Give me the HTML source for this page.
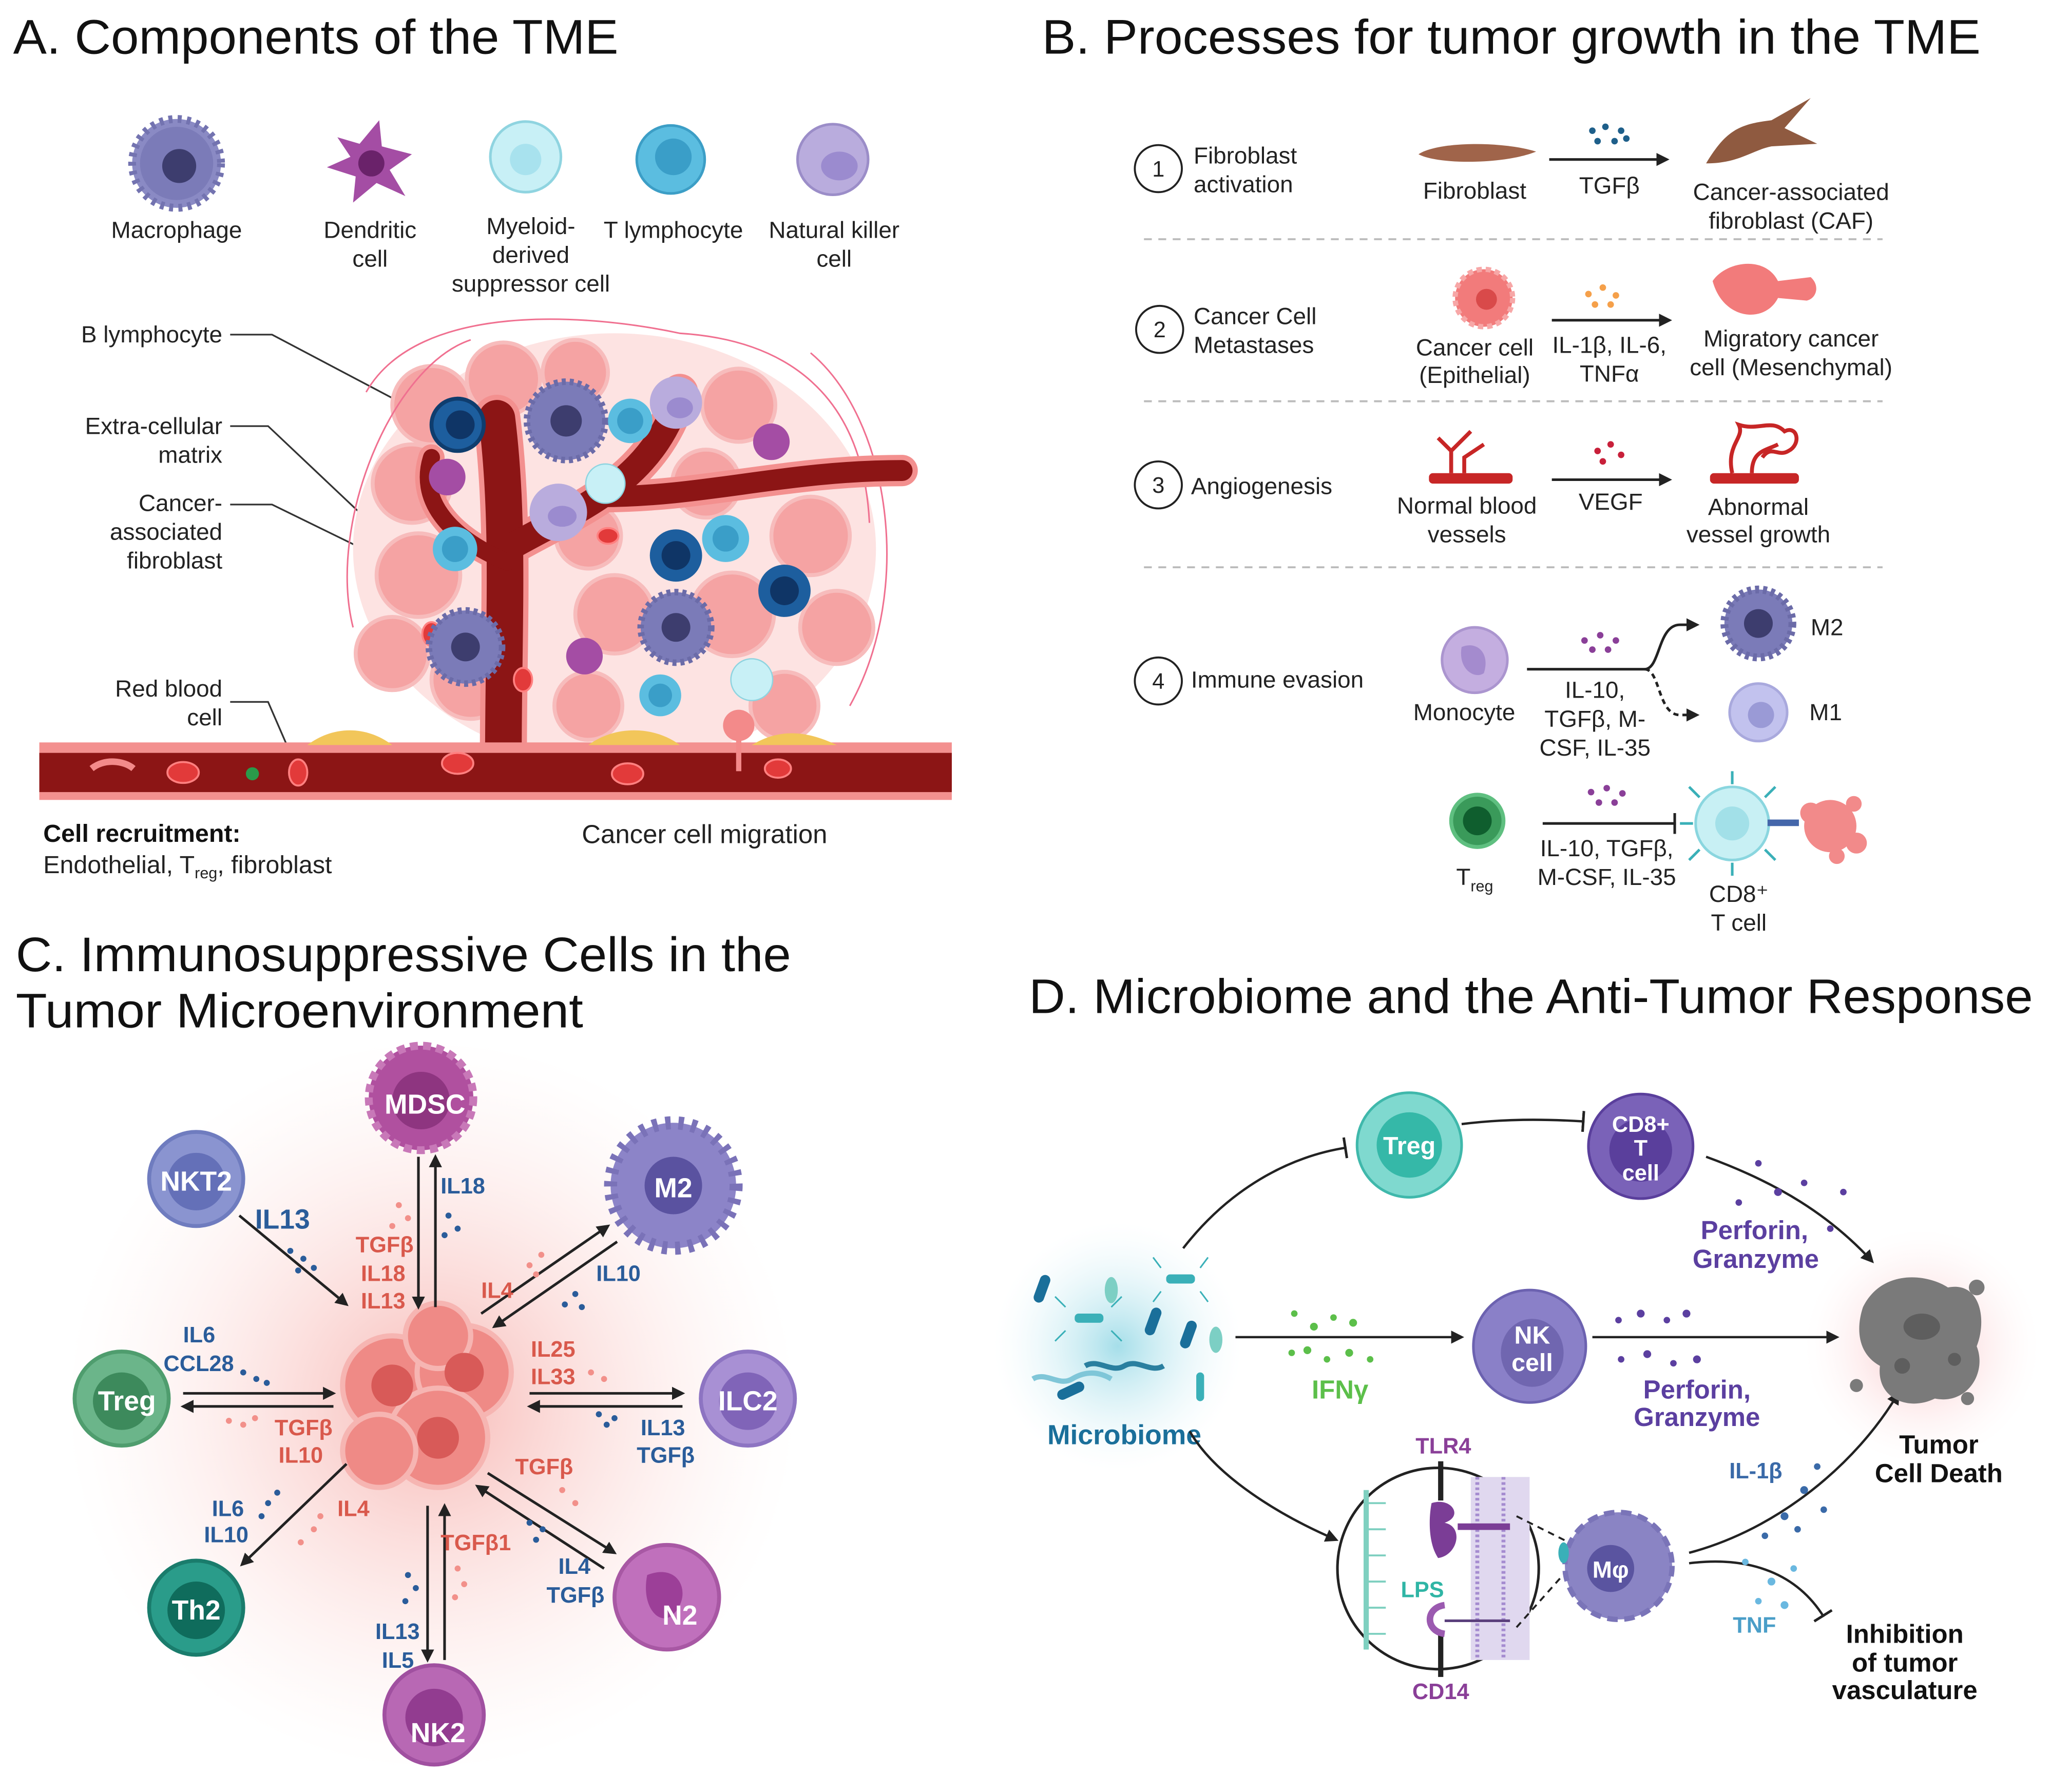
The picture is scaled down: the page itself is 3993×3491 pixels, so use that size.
<!DOCTYPE html>
<html><head><meta charset="utf-8"><style>
html,body{margin:0;padding:0;background:#fff;}
svg{display:block;}
text{font-family:"Liberation Sans",sans-serif;}
</style></head><body>
<svg width="3993" height="3491" viewBox="0 0 1568 1371" xmlns="http://www.w3.org/2000/svg">
<defs>
<marker id="ar" markerWidth="10" markerHeight="10" refX="8" refY="5" orient="auto" markerUnits="userSpaceOnUse"><path d="M0,0 L10,5 L0,10 z" fill="#222"/></marker>
<marker id="bar" markerWidth="4" markerHeight="16" refX="2" refY="8" orient="auto" markerUnits="userSpaceOnUse"><rect x="0" y="0" width="2" height="16" fill="#222"/></marker>
<radialGradient id="glowC"><stop offset="0" stop-color="#f6b0ac" stop-opacity="0.9"/><stop offset="1" stop-color="#fde8e6" stop-opacity="0"/></radialGradient>
<radialGradient id="glowM"><stop offset="0" stop-color="#8fd6e4" stop-opacity="0.8"/><stop offset="1" stop-color="#e6f6fa" stop-opacity="0"/></radialGradient>
<radialGradient id="glowT"><stop offset="0" stop-color="#f6b0b4" stop-opacity="0.8"/><stop offset="1" stop-color="#fff0f0" stop-opacity="0"/></radialGradient>
</defs>
<rect width="1568" height="1371" fill="#fff"/>

<!-- ================= PANEL A ================= -->
<text x="10" y="41" font-size="37" fill="#111" textLength="463" lengthAdjust="spacingAndGlyphs">A. Components of the TME</text>
<g>
<circle cx="135" cy="125" r="34" fill="#8a8ac4" stroke="#7373b0" stroke-width="6" stroke-dasharray="3 4"/>
<circle cx="135" cy="125" r="28" fill="#7b7bb8"/><circle cx="137" cy="127" r="13" fill="#3d3d6e"/>
<path d="M258,105 L275,110 L290,92 L292,112 L315,118 L298,130 L310,150 L288,140 L270,155 L272,135 L250,128 L268,120z" fill="#a44da4"/><circle cx="284" cy="125" r="10" fill="#6a226a"/>
<circle cx="402" cy="120" r="27" fill="#c8f0f6" stroke="#8fd4e0" stroke-width="2"/><circle cx="402" cy="122" r="12" fill="#a8e2ee"/>
<circle cx="513" cy="122" r="26" fill="#5bbde0" stroke="#3c9ec6" stroke-width="2"/><circle cx="515" cy="120" r="14" fill="#3a9ec8"/>
<circle cx="637" cy="122" r="27" fill="#b9acdd" stroke="#9b8dc8" stroke-width="2"/><ellipse cx="642" cy="127" rx="14" ry="11" fill="#9b8bcf"/>
</g>
<g font-size="18" fill="#222" text-anchor="middle">
<text x="135" y="182">Macrophage</text>
<text x="283" y="182">Dendritic</text><text x="283" y="204">cell</text>
<text x="406" y="179">Myeloid-</text><text x="406" y="201">derived</text><text x="406" y="223">suppressor cell</text>
<text x="515" y="182">T lymphocyte</text>
<text x="638" y="182">Natural killer</text><text x="638" y="204">cell</text>
</g>
<g font-size="18" fill="#222" text-anchor="end">
<text x="170" y="262">B lymphocyte</text>
<text x="170" y="332">Extra-cellular</text><text x="170" y="354">matrix</text>
<text x="170" y="391">Cancer-</text><text x="170" y="413">associated</text><text x="170" y="435">fibroblast</text>
<text x="170" y="533">Red blood</text><text x="170" y="555">cell</text>
</g>
<g stroke="#333" stroke-width="1.3" fill="none">
<path d="M176,256 H208 L335,323"/><path d="M176,326 H205 L278,395"/><path d="M176,386 H208 L298,430"/><path d="M176,537 H205 L228,590"/>
</g>
<g>
<ellipse cx="470" cy="420" rx="200" ry="165" fill="#fde3e2"/>
<g fill="#f5a3a3" stroke="#f7bcbc" stroke-width="3">
<circle cx="330" cy="310" r="30"/><circle cx="385" cy="290" r="28"/><circle cx="440" cy="285" r="25"/><circle cx="565" cy="310" r="28"/>
<circle cx="315" cy="370" r="30"/><circle cx="320" cy="440" r="32"/><circle cx="300" cy="500" r="28"/><circle cx="360" cy="520" r="30"/>
<circle cx="470" cy="470" r="30"/><circle cx="560" cy="470" r="32"/><circle cx="620" cy="410" r="30"/><circle cx="640" cy="480" r="28"/>
<circle cx="600" cy="540" r="26"/><circle cx="450" cy="540" r="26"/><circle cx="540" cy="370" r="26"/><circle cx="450" cy="410" r="25"/>
</g>
<g fill="none" stroke="#f07090" stroke-width="1.2"><path d="M280,300 C320,230 450,240 520,255 C600,260 660,300 665,400"/><path d="M270,480 C250,400 300,280 360,260"/><path d="M650,540 C700,450 680,320 620,270"/></g>
</g>
<g fill="none" stroke-linecap="round">
<path d="M385,578 C385,480 390,400 380,320" stroke="#f3908f" stroke-width="36"/>
<path d="M388,420 C440,390 500,370 520,300" stroke="#f3908f" stroke-width="28"/>
<path d="M388,430 C340,410 320,380 330,350" stroke="#f3908f" stroke-width="20"/>
<path d="M460,380 C540,380 600,360 690,360" stroke="#f3908f" stroke-width="24"/>
<path d="M385,578 C385,480 390,400 380,320" stroke="#8c1515" stroke-width="28"/>
<path d="M388,420 C440,390 500,370 520,300" stroke="#8c1515" stroke-width="20"/>
<path d="M388,430 C340,410 320,380 330,350" stroke="#8c1515" stroke-width="13"/>
<path d="M460,380 C540,380 600,360 690,360" stroke="#8c1515" stroke-width="16"/>
</g>
<rect x="30" y="568" width="698" height="44" fill="#f3908f"/>
<rect x="30" y="576" width="698" height="30" fill="#8c1515"/>
<g fill="#e23a3a" stroke="#ff8080" stroke-width="1.5">
<ellipse cx="140" cy="591" rx="12" ry="8"/><ellipse cx="228" cy="591" rx="7" ry="10"/><ellipse cx="350" cy="584" rx="12" ry="8"/><ellipse cx="480" cy="592" rx="12" ry="8"/><ellipse cx="595" cy="588" rx="10" ry="7"/>
<ellipse cx="465" cy="410" rx="8" ry="6"/><ellipse cx="400" cy="520" rx="7" ry="9"/><ellipse cx="330" cy="485" rx="7" ry="9"/>
</g>
<circle cx="193" cy="592" r="5" fill="#2a9a4a"/>
<path d="M70,588 C80,580 95,582 102,588" stroke="#f38a8a" stroke-width="5" fill="none"/>
<g fill="#f2c65a"><path d="M235,570 C255,555 280,555 300,570z"/><path d="M450,570 C470,555 500,555 520,570z"/><path d="M575,570 C595,558 615,558 640,570z"/></g>
<circle cx="565" cy="555" r="12" fill="#f38a8a"/><path d="M565,565 V590" stroke="#f38a8a" stroke-width="4"/>
<g>
<circle cx="350" cy="325" r="20" fill="#1d5e9e" stroke="#0f3d6e" stroke-width="3"/><circle cx="352" cy="325" r="11" fill="#0f3566"/>
<circle cx="433" cy="322" r="30" fill="#7b7bb8" stroke="#6b6ba8" stroke-width="5" stroke-dasharray="3 3"/><circle cx="433" cy="322" r="12" fill="#3d3d6e"/>
<circle cx="482" cy="322" r="17" fill="#5bbde0"/><circle cx="482" cy="322" r="10" fill="#3a9ec8"/>
<circle cx="517" cy="308" r="20" fill="#b9acdd"/><ellipse cx="520" cy="312" rx="10" ry="8" fill="#9b8bcf"/>
<circle cx="342" cy="365" r="14" fill="#a44da4"/><circle cx="590" cy="338" r="14" fill="#a44da4"/>
<circle cx="463" cy="370" r="15" fill="#c8f0f6" stroke="#8fd4e0"/>
<circle cx="427" cy="392" r="22" fill="#b9acdd"/><ellipse cx="430" cy="395" rx="11" ry="8" fill="#9b8bcf"/>
<circle cx="348" cy="420" r="17" fill="#5bbde0"/><circle cx="348" cy="420" r="10" fill="#3a9ec8"/>
<circle cx="517" cy="425" r="20" fill="#1d5e9e"/><circle cx="517" cy="425" r="11" fill="#0f3566"/>
<circle cx="555" cy="412" r="18" fill="#5bbde0"/><circle cx="555" cy="412" r="10" fill="#3a9ec8"/>
<circle cx="600" cy="452" r="20" fill="#1d5e9e"/><circle cx="600" cy="452" r="11" fill="#0f3566"/>
<circle cx="356" cy="495" r="28" fill="#7b7bb8" stroke="#6b6ba8" stroke-width="5" stroke-dasharray="3 3"/><circle cx="356" cy="495" r="11" fill="#3d3d6e"/>
<circle cx="517" cy="480" r="27" fill="#7b7bb8" stroke="#6b6ba8" stroke-width="5" stroke-dasharray="3 3"/><circle cx="517" cy="480" r="11" fill="#3d3d6e"/>
<circle cx="447" cy="502" r="14" fill="#a44da4"/>
<circle cx="505" cy="532" r="16" fill="#5bbde0"/><circle cx="505" cy="532" r="9" fill="#3a9ec8"/>
<circle cx="575" cy="520" r="16" fill="#c8f0f6" stroke="#8fd4e0"/>
</g>
<text x="33" y="644" font-size="19" font-weight="bold" fill="#111">Cell recruitment:</text>
<text x="33" y="668" font-size="19" fill="#222">Endothelial, T<tspan font-size="12" dy="4">reg</tspan><tspan dy="-4">, fibroblast</tspan></text>
<text x="445" y="645" font-size="20" fill="#222">Cancer cell migration</text>

<!-- ================= PANEL B ================= -->
<text x="797" y="41" font-size="37" fill="#111" textLength="718" lengthAdjust="spacingAndGlyphs">B. Processes for tumor growth in the TME</text>
<g stroke="#bbb" stroke-width="1.5" stroke-dasharray="6 5"><path d="M875,183 H1440"/><path d="M875,307 H1440"/><path d="M875,434 H1440"/></g>
<g fill="none" stroke="#222" stroke-width="1.5"><circle cx="886" cy="129" r="18"/><circle cx="887" cy="252" r="18"/><circle cx="886" cy="371" r="18"/><circle cx="886" cy="521" r="18"/></g>
<g font-size="17" fill="#222" text-anchor="middle"><text x="886" y="135">1</text><text x="887" y="258">2</text><text x="886" y="377">3</text><text x="886" y="527">4</text></g>
<g font-size="18" fill="#222">
<text x="913" y="125">Fibroblast</text><text x="913" y="147">activation</text>
<text x="913" y="248">Cancer Cell</text><text x="913" y="270">Metastases</text>
<text x="911" y="378">Angiogenesis</text>
<text x="911" y="526">Immune evasion</text>
</g>
<g stroke="#222" stroke-width="2" fill="none">
<path d="M1185,122 H1275" marker-end="url(#ar)"/><path d="M1187,245 H1277" marker-end="url(#ar)"/><path d="M1187,367 H1277" marker-end="url(#ar)"/>
<path d="M1168,512 H1258 C1270,512 1268,478 1285,478 H1298" marker-end="url(#ar)"/>
<path d="M1258,512 C1270,512 1268,547 1285,547 H1298" stroke-dasharray="4 3" marker-end="url(#ar)"/>
<path d="M1180,630 H1282" marker-end="url(#bar)"/>
</g>
<path d="M1085,118 C1100,108 1150,108 1175,116 C1150,126 1100,126 1085,118z" fill="#a0644a"/>
<path d="M1305,125 C1320,100 1330,95 1355,92 L1385,75 L1365,98 L1390,110 L1355,112 C1340,115 1330,125 1305,125z" fill="#8f5a40"/>
<g fill="#1e5f8a"><circle cx="1218" cy="100" r="2.5"/><circle cx="1228" cy="97" r="2.5"/><circle cx="1240" cy="100" r="2.5"/><circle cx="1222" cy="108" r="2.5"/><circle cx="1235" cy="108" r="2.5"/><circle cx="1244" cy="106" r="2.5"/></g>
<circle cx="1135" cy="228" r="22" fill="#f27b7b" stroke="#f7a7a7" stroke-width="4" stroke-dasharray="4 3"/><circle cx="1137" cy="229" r="8" fill="#d94a4a"/>
<path d="M1310,215 C1320,200 1350,195 1360,215 L1385,212 C1392,218 1390,228 1382,230 L1360,228 C1350,248 1318,245 1310,215z" fill="#f27b7b"/>
<g fill="#f5a04a"><circle cx="1215" cy="225" r="2.5"/><circle cx="1226" cy="220" r="2.5"/><circle cx="1236" cy="226" r="2.5"/><circle cx="1220" cy="233" r="2.5"/><circle cx="1232" cy="233" r="2.5"/></g>
<rect x="1093" y="362" width="64" height="8" rx="3" fill="#c72626"/><path d="M1110,362 V345 L1100,335 M1110,345 L1125,330 M1120,362 V350 L1135,340" stroke="#c72626" stroke-width="3" fill="none"/>
<rect x="1308" y="362" width="68" height="8" rx="3" fill="#c72626"/><path d="M1325,362 C1320,340 1335,335 1330,325 C1345,330 1355,320 1365,330 C1375,325 1378,340 1368,345 C1360,350 1355,340 1348,350 M1340,362 C1340,345 1350,345 1360,340" stroke="#c72626" stroke-width="3" fill="none"/>
<g fill="#c8203a"><circle cx="1222" cy="345" r="2.5"/><circle cx="1232" cy="340" r="2.5"/><circle cx="1240" cy="348" r="2.5"/><circle cx="1226" cy="353" r="2.5"/></g>
<circle cx="1128" cy="505" r="25" fill="#c4aee0" stroke="#ab95cf" stroke-width="2"/><path d="M1118,495 C1130,490 1140,500 1135,515 C1128,520 1115,512 1118,495z" fill="#a48bce"/>
<g fill="#8a3f98"><circle cx="1212" cy="490" r="2.5"/><circle cx="1224" cy="486" r="2.5"/><circle cx="1236" cy="490" r="2.5"/><circle cx="1218" cy="497" r="2.5"/><circle cx="1230" cy="497" r="2.5"/></g>
<circle cx="1345" cy="477" r="26" fill="#7b7bb8" stroke="#6b6ba8" stroke-width="6" stroke-dasharray="3 3"/><circle cx="1345" cy="477" r="11" fill="#3d3d6e"/>
<circle cx="1345" cy="545" r="22" fill="#c2c2ee" stroke="#a9a9dd" stroke-width="2"/><circle cx="1347" cy="547" r="10" fill="#9a9ad6"/>
<circle cx="1130" cy="628" r="20" fill="#3a9a5a" stroke="#5fbf80" stroke-width="3"/><circle cx="1130" cy="628" r="11" fill="#0f5e2e"/>
<g fill="#8a3f98"><circle cx="1217" cy="606" r="2.5"/><circle cx="1229" cy="603" r="2.5"/><circle cx="1241" cy="607" r="2.5"/><circle cx="1223" cy="614" r="2.5"/><circle cx="1235" cy="614" r="2.5"/></g>
<g stroke="#3ab0b8" stroke-width="2"><path d="M1325,600 V590 M1325,660 V670 M1295,630 H1285 M1350,610 L1358,602 M1300,610 L1292,602 M1300,650 L1292,658 M1350,650 L1358,658"/></g>
<circle cx="1325" cy="630" r="28" fill="#c8f0f4" stroke="#8ad6df" stroke-width="2"/><circle cx="1325" cy="630" r="13" fill="#a2e0e8"/>
<rect x="1352" y="627" width="24" height="5" fill="#4466aa"/>
<g fill="#f28a8a"><circle cx="1400" cy="632" r="20"/><circle cx="1385" cy="622" r="8"/><circle cx="1420" cy="645" r="8"/><circle cx="1405" cy="655" r="6"/><circle cx="1418" cy="615" r="6"/></g>
<g font-size="18" fill="#222" text-anchor="middle">
<text x="1128" y="152">Fibroblast</text><text x="1231" y="148">TGFβ</text>
<text x="1370" y="153">Cancer-associated</text><text x="1370" y="175">fibroblast (CAF)</text>
<text x="1128" y="272">Cancer cell</text><text x="1128" y="293">(Epithelial)</text>
<text x="1231" y="270">IL-1β, IL-6,</text><text x="1231" y="292">TNFα</text>
<text x="1370" y="265">Migratory cancer</text><text x="1370" y="287">cell (Mesenchymal)</text>
<text x="1122" y="393">Normal blood</text><text x="1122" y="415">vessels</text><text x="1232" y="390">VEGF</text>
<text x="1345" y="394">Abnormal</text><text x="1345" y="415">vessel growth</text>
<text x="1120" y="551">Monocyte</text>
<text x="1220" y="534">IL-10,</text><text x="1220" y="556">TGFβ, M-</text><text x="1220" y="578">CSF, IL-35</text>
<text x="1128" y="677">T<tspan font-size="12" dy="5">reg</tspan></text>
<text x="1229" y="655">IL-10, TGFβ,</text><text x="1229" y="677">M-CSF, IL-35</text>
<text x="1330" y="690">CD8⁺</text><text x="1330" y="712">T cell</text>
</g>
<g font-size="18" fill="#222"><text x="1385" y="486">M2</text><text x="1384" y="551">M1</text></g>

<!-- ================= PANEL C ================= -->
<text x="12" y="743" font-size="37" fill="#111" textLength="593" lengthAdjust="spacingAndGlyphs">C. Immunosuppressive Cells in the</text>
<text x="12" y="786" font-size="37" fill="#111" textLength="434" lengthAdjust="spacingAndGlyphs">Tumor Microenvironment</text>
<circle cx="330" cy="1075" r="280" fill="url(#glowC)"/>
<g fill="#ef8a86" stroke="#f6b5b2" stroke-width="4">
<circle cx="300" cy="1060" r="38"/><circle cx="355" cy="1050" r="36"/><circle cx="335" cy="1100" r="38"/><circle cx="290" cy="1110" r="28"/><circle cx="335" cy="1022" r="25"/>
</g>
<g fill="#d85a58"><circle cx="300" cy="1060" r="16"/><circle cx="355" cy="1050" r="15"/><circle cx="335" cy="1100" r="16"/></g>
<g stroke="#222" stroke-width="2" fill="none">
<path d="M333,1000 V885" marker-end="url(#ar)"/><path d="M320,885 V1000" marker-end="url(#ar)"/>
<path d="M183,930 L265,998" marker-end="url(#ar)"/>
<path d="M368,1005 L465,938" marker-end="url(#ar)"/><path d="M472,950 L378,1015" marker-end="url(#ar)"/>
<path d="M140,1066 H255" marker-end="url(#ar)"/><path d="M255,1076 H140" marker-end="url(#ar)"/>
<path d="M405,1066 H522" marker-end="url(#ar)"/><path d="M522,1076 H405" marker-end="url(#ar)"/>
<path d="M265,1120 L185,1197" marker-end="url(#ar)"/>
<path d="M373,1127 L470,1188" marker-end="url(#ar)"/><path d="M462,1200 L365,1137" marker-end="url(#ar)"/>
<path d="M327,1152 V1270" marker-end="url(#ar)"/><path d="M340,1270 V1152" marker-end="url(#ar)"/>
</g>
<g>
<circle cx="322" cy="840" r="40" fill="#b0509f" stroke="#c878b8" stroke-width="6" stroke-dasharray="6 4"/><circle cx="322" cy="842" r="22" fill="#8e3580"/>
<circle cx="150" cy="902" r="36" fill="#8a94d0" stroke="#6f7cbf" stroke-width="3"/><circle cx="150" cy="904" r="22" fill="#6470b8"/>
<circle cx="515" cy="907" r="48" fill="#8c84c8" stroke="#7a72b8" stroke-width="10" stroke-dasharray="4 6"/><circle cx="515" cy="907" r="22" fill="#5a52a0"/>
<circle cx="93" cy="1070" r="36" fill="#6bb58a" stroke="#4f9d6e" stroke-width="3"/><circle cx="93" cy="1072" r="22" fill="#3d8a5c"/>
<circle cx="572" cy="1070" r="36" fill="#a890d4" stroke="#8d74c2" stroke-width="3"/><circle cx="572" cy="1072" r="22" fill="#8064b8"/>
<circle cx="150" cy="1230" r="36" fill="#2a9c8a" stroke="#1a7c6c" stroke-width="3"/><circle cx="150" cy="1232" r="22" fill="#0f6c5c"/>
<circle cx="510" cy="1222" r="40" fill="#c070bc" stroke="#a858a4" stroke-width="3"/><path d="M495,1205 C520,1195 530,1220 515,1235 C505,1245 490,1230 495,1205z" fill="#9c3f98"/>
<circle cx="332" cy="1312" r="38" fill="#b868b4" stroke="#a050a0" stroke-width="3"/><circle cx="332" cy="1314" r="22" fill="#923c90"/>
</g>
<g font-size="21" font-weight="bold" fill="#fff" text-anchor="middle">
<text x="325" y="852">MDSC</text><text x="150" y="911">NKT2</text><text x="515" y="916">M2</text><text x="97" y="1079">Treg</text><text x="572" y="1079">ILC2</text><text x="150" y="1239">Th2</text><text x="520" y="1243">N2</text><text x="335" y="1333">NK2</text>
</g>
<g font-size="17" font-weight="bold" fill="#2a5c9a">
<text x="337" y="913">IL18</text><text x="195" y="940" font-size="21">IL13</text><text x="456" y="980">IL10</text>
<text x="140" y="1027">IL6</text><text x="125" y="1049">CCL28</text><text x="490" y="1098">IL13</text><text x="487" y="1119">TGFβ</text>
<text x="162" y="1160">IL6</text><text x="156" y="1180">IL10</text><text x="427" y="1204">IL4</text><text x="418" y="1226">TGFβ</text>
<text x="287" y="1254">IL13</text><text x="292" y="1276">IL5</text>
</g>
<g font-size="17" font-weight="bold" fill="#d9594c">
<text x="272" y="958">TGFβ</text><text x="276" y="980">IL18</text><text x="276" y="1001">IL13</text><text x="368" y="993">IL4</text>
<text x="406" y="1038">IL25</text><text x="406" y="1059">IL33</text><text x="210" y="1098">TGFβ</text><text x="213" y="1119">IL10</text>
<text x="394" y="1128">TGFβ</text><text x="258" y="1160">IL4</text><text x="337" y="1186">TGFβ1</text>
</g>
<g fill="#2a5c9a"><circle cx="222" cy="957" r="2.3"/><circle cx="232" cy="963" r="2.3"/><circle cx="240" cy="970" r="2.3"/><circle cx="228" cy="972" r="2.3"/><circle cx="343" cy="930" r="2.3"/><circle cx="350" cy="940" r="2.3"/><circle cx="340" cy="945" r="2.3"/><circle cx="440" cy="990" r="2.3"/><circle cx="432" cy="998" r="2.3"/><circle cx="445" cy="1000" r="2.3"/><circle cx="186" cy="1050" r="2.3"/><circle cx="196" cy="1055" r="2.3"/><circle cx="204" cy="1058" r="2.3"/><circle cx="458" cy="1082" r="2.3"/><circle cx="470" cy="1085" r="2.3"/><circle cx="464" cy="1090" r="2.3"/><circle cx="205" cy="1150" r="2.3"/><circle cx="212" cy="1142" r="2.3"/><circle cx="200" cy="1160" r="2.3"/><circle cx="405" cy="1165" r="2.3"/><circle cx="415" cy="1170" r="2.3"/><circle cx="410" cy="1178" r="2.3"/><circle cx="312" cy="1205" r="2.3"/><circle cx="318" cy="1215" r="2.3"/><circle cx="310" cy="1225" r="2.3"/></g>
<g fill="#f2908a"><circle cx="305" cy="922" r="2.3"/><circle cx="312" cy="932" r="2.3"/><circle cx="300" cy="938" r="2.3"/><circle cx="405" cy="968" r="2.3"/><circle cx="414" cy="960" r="2.3"/><circle cx="410" cy="975" r="2.3"/><circle cx="452" cy="1050" r="2.3"/><circle cx="462" cy="1055" r="2.3"/><circle cx="175" cy="1087" r="2.3"/><circle cx="186" cy="1090" r="2.3"/><circle cx="195" cy="1085" r="2.3"/><circle cx="240" cy="1170" r="2.3"/><circle cx="230" cy="1180" r="2.3"/><circle cx="245" cy="1160" r="2.3"/><circle cx="430" cy="1140" r="2.3"/><circle cx="440" cy="1150" r="2.3"/><circle cx="350" cy="1200" r="2.3"/><circle cx="355" cy="1212" r="2.3"/><circle cx="348" cy="1222" r="2.3"/></g>

<!-- ================= PANEL D ================= -->
<text x="787" y="775" font-size="37" fill="#111" textLength="768" lengthAdjust="spacingAndGlyphs">D. Microbiome and the Anti-Tumor Response</text>
<circle cx="855" cy="1030" r="95" fill="url(#glowM)"/>
<circle cx="1470" cy="1030" r="90" fill="url(#glowT)"/>
<g fill="#1a6f9a"><rect x="793" y="975" width="8" height="22" rx="4" transform="rotate(20 797 986)"/><rect x="878" y="1000" width="8" height="22" rx="4" transform="rotate(20 882 1011)"/><rect x="905" y="1010" width="8" height="22" rx="4" transform="rotate(20 909 1021)"/><rect x="808" y="1060" width="22" height="8" rx="4" transform="rotate(-25 819 1064)"/></g>
<g fill="#3ab0b8"><rect x="822" y="1005" width="22" height="7" rx="3"/><rect x="892" y="975" width="22" height="7" rx="3"/><rect x="915" y="1050" width="6" height="22" rx="3"/><ellipse cx="850" cy="987" rx="5" ry="10" fill="#7ccfc4"/><ellipse cx="930" cy="1025" rx="5" ry="10" fill="#7ccfc4"/></g>
<g stroke="#3ab0b8" stroke-width="1.2" fill="none"><path d="M815,1000 l-8,-8 M850,1000 l8,-8 M815,1018 l-8,8 M850,1018 l8,8 M888,970 l-6,-8 M918,970 l6,-8 M888,988 l-6,8 M918,988 l6,8"/><path d="M790,1055 c10,-6 20,6 30,0 s20,-6 30,0" stroke="#7fc6d8" stroke-width="4"/><path d="M830,1045 c10,-6 20,6 30,0 s20,6 30,0" stroke="#2a7f9f" stroke-width="4"/></g>
<text x="860" y="1105" font-size="21" font-weight="bold" fill="#1a6f9a" text-anchor="middle">Microbiome</text>
<g stroke="#222" stroke-width="1.8" fill="none">
<path d="M905,955 C940,910 985,885 1030,878" marker-end="url(#bar)"/>
<path d="M1118,860 C1150,856 1180,856 1212,858" marker-end="url(#bar)"/>
<path d="M1305,885 C1360,905 1400,930 1432,965" marker-end="url(#ar)"/>
<path d="M945,1023 H1118" marker-end="url(#ar)"/>
<path d="M1218,1023 H1405" marker-end="url(#ar)"/>
<path d="M910,1095 C930,1130 980,1160 1022,1178" marker-end="url(#ar)"/>
<path d="M1292,1188 C1360,1170 1420,1120 1452,1066" marker-end="url(#ar)"/>
<path d="M1292,1196 C1340,1190 1375,1205 1395,1237" marker-end="url(#bar)"/>
</g>
<circle cx="1078" cy="876" r="40" fill="#7fd9cf" stroke="#3fb8ab" stroke-width="2"/><circle cx="1078" cy="876" r="25" fill="#35b8a8"/>
<text x="1078" y="883" font-size="19" font-weight="bold" fill="#fff" text-anchor="middle">Treg</text>
<circle cx="1255" cy="877" r="40" fill="#7a62b8" stroke="#5a3f9c" stroke-width="2"/><circle cx="1255" cy="880" r="24" fill="#5a3f9c"/>
<g font-size="17" font-weight="bold" fill="#fff" text-anchor="middle"><text x="1255" y="866">CD8+</text><text x="1255" y="884">T</text><text x="1255" y="903">cell</text></g>
<circle cx="1170" cy="1030" r="43" fill="#8a80c8" stroke="#6c62b0" stroke-width="2"/><ellipse cx="1172" cy="1035" rx="24" ry="26" fill="#7066b0"/>
<g font-size="19" font-weight="bold" fill="#fff" text-anchor="middle"><text x="1172" y="1028">NK</text><text x="1172" y="1049">cell</text></g>
<g fill="#5cbf4a"><circle cx="990" cy="1005" r="2.5"/><circle cx="1005" cy="1015" r="3"/><circle cx="1020" cy="1008" r="2.5"/><circle cx="1035" cy="1012" r="3"/><circle cx="988" cy="1035" r="2.5"/><circle cx="1000" cy="1033" r="3"/><circle cx="1015" cy="1040" r="2.5"/><circle cx="1032" cy="1035" r="3"/><circle cx="1048" cy="1040" r="2.5"/></g>
<text x="1025" y="1070" font-size="20" font-weight="bold" fill="#5cbf4a" text-anchor="middle">IFNγ</text>
<g fill="#5b3fa0"><circle cx="1238" cy="1010" r="2.5"/><circle cx="1255" cy="1005" r="3"/><circle cx="1275" cy="1010" r="2.5"/><circle cx="1290" cy="1005" r="3"/><circle cx="1240" cy="1040" r="2.5"/><circle cx="1260" cy="1036" r="3"/><circle cx="1280" cy="1043" r="2.5"/><circle cx="1298" cy="1040" r="3"/><circle cx="1345" cy="890" r="2.5"/><circle cx="1360" cy="912" r="3"/><circle cx="1380" cy="905" r="2.5"/><circle cx="1400" cy="940" r="2.5"/><circle cx="1330" cy="920" r="2.5"/><circle cx="1410" cy="912" r="2.5"/></g>
<g font-size="20" font-weight="bold" fill="#5b3fa0" text-anchor="middle"><text x="1342" y="948">Perforin,</text><text x="1343" y="970">Granzyme</text><text x="1298" y="1070">Perforin,</text><text x="1298" y="1091">Granzyme</text></g>
<path d="M1425,1000 C1440,970 1475,975 1490,985 C1515,980 1520,1010 1512,1030 C1520,1050 1505,1075 1480,1070 C1460,1080 1435,1070 1438,1045 C1420,1035 1420,1015 1425,1000z" fill="#7a7a7a"/>
<g fill="#5e5e5e"><ellipse cx="1470" cy="1015" rx="14" ry="10"/><circle cx="1455" cy="1045" r="6"/><circle cx="1495" cy="1040" r="5"/></g>
<g fill="#7a7a7a"><circle cx="1512" cy="985" r="6"/><circle cx="1420" cy="1060" r="5"/><circle cx="1505" cy="1070" r="5"/></g>
<g font-size="20" font-weight="bold" fill="#111" text-anchor="middle"><text x="1483" y="1112">Tumor</text><text x="1483" y="1134">Cell Death</text><text x="1457" y="1257">Inhibition</text><text x="1457" y="1279">of tumor</text><text x="1457" y="1300">vasculature</text></g>
<circle cx="1100" cy="1200" r="77" fill="#fff" stroke="#222" stroke-width="2"/>
<rect x="1125" y="1130" width="45" height="140" fill="#e0d8ef"/>
<path d="M1130,1130 V1270 M1150,1130 V1270" stroke="#a58cd0" stroke-width="3" stroke-dasharray="2 2"/>
<path d="M1045,1140 V1262" stroke="#7fd0c0" stroke-width="4"/>
<g stroke="#7fd0c0" stroke-width="1.5"><path d="M1045,1150 H1060 M1045,1170 H1060 M1045,1190 H1060 M1045,1210 H1060 M1045,1230 H1060 M1045,1250 H1060"/></g>
<path d="M1102,1118 V1148 M1102,1250 V1283" stroke="#222" stroke-width="4"/>
<path d="M1095,1150 C1110,1145 1120,1160 1105,1165 C1120,1168 1115,1190 1100,1192 C1092,1180 1093,1160 1095,1150z" fill="#7b3d96"/>
<path d="M1115,1168 H1155" stroke="#7b3d96" stroke-width="5"/>
<path d="M1105,1228 C1090,1230 1090,1248 1105,1250" stroke="#9b5ab0" stroke-width="5" fill="none"/><path d="M1105,1240 H1155" stroke="#5a3f7c" stroke-width="2"/>
<path d="M1160,1160 L1200,1180 M1160,1245 L1200,1200" stroke="#222" stroke-width="1.5" stroke-dasharray="5 4"/>
<text x="1104" y="1112" font-size="17" font-weight="bold" fill="#8a3f98" text-anchor="middle">TLR4</text>
<text x="1088" y="1222" font-size="17" font-weight="bold" fill="#2fb5a5" text-anchor="middle">LPS</text>
<text x="1102" y="1300" font-size="17" font-weight="bold" fill="#8a3f98" text-anchor="middle">CD14</text>
<circle cx="1238" cy="1198" r="41" fill="#8a84c4" stroke="#7a74b8" stroke-width="4" stroke-dasharray="8 5"/><circle cx="1232" cy="1200" r="18" fill="#5a54a0"/>
<text x="1232" y="1207" font-size="18" font-weight="bold" fill="#fff" text-anchor="middle">Mφ</text>
<ellipse cx="1196" cy="1188" rx="4" ry="8" fill="#3ab0b8"/>
<g fill="#3a6aa8"><circle cx="1390" cy="1122" r="2.5"/><circle cx="1380" cy="1140" r="3"/><circle cx="1395" cy="1155" r="2.5"/><circle cx="1365" cy="1160" r="3"/><circle cx="1350" cy="1175" r="2.5"/><circle cx="1375" cy="1170" r="2.5"/></g>
<g fill="#6ab8e0"><circle cx="1335" cy="1195" r="2.5"/><circle cx="1355" cy="1210" r="3"/><circle cx="1372" cy="1200" r="2.5"/><circle cx="1345" cy="1225" r="2.5"/><circle cx="1365" cy="1228" r="3"/></g>
<text x="1343" y="1131" font-size="17" font-weight="bold" fill="#3a6aa8" text-anchor="middle">IL-1β</text>
<text x="1342" y="1249" font-size="17" font-weight="bold" fill="#4a9ec8" text-anchor="middle">TNF</text>
</svg>
</body></html>
